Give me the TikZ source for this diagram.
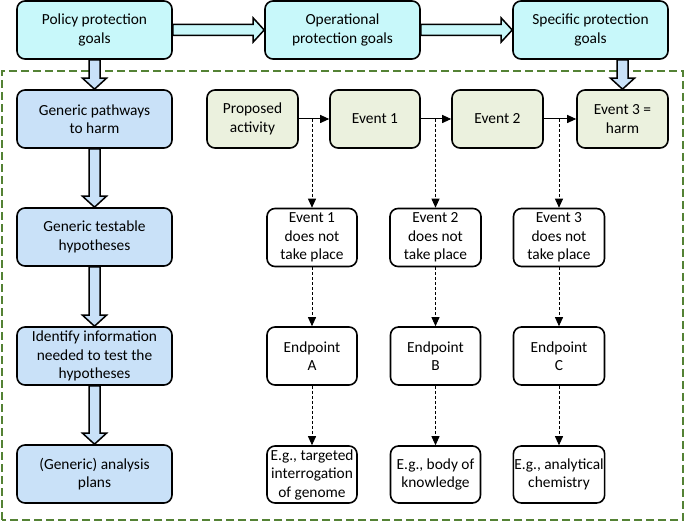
\documentclass[tikz,border=0pt]{standalone}
\usepackage{fontspec}
\setmainfont{Carlito}
\usetikzlibrary{calc,arrows.meta}
\definecolor{topcyan}{HTML}{C8F8FA}
\definecolor{leftblue}{HTML}{C9E1F8}
\definecolor{evolive}{HTML}{EBF1DE}
\definecolor{framegreen}{HTML}{548235}
\tikzset{
  box/.style={draw, line width=1.6pt, rounded corners=8pt, align=center, inner sep=1pt,
    font=\fontsize{15.4}{18.5}\selectfont, text=black},
  topbox/.style={box, fill=topcyan, minimum width=155pt, minimum height=58pt},
  leftbox/.style={box, fill=leftblue, minimum width=155pt, minimum height=58pt},
  evbox/.style={box, fill=evolive, minimum width=91pt, minimum height=58pt},
  whitebox/.style={box, fill=white, minimum width=90pt, minimum height=58pt},
  hollow/.style={draw, line width=1.5pt, line join=miter},
  flowarrow/.style={line width=1pt, -{Triangle[length=9pt,width=8pt]}},
  droparrow/.style={line width=0.9pt, dash pattern=on 3pt off 2pt, -{Triangle[length=9pt,width=8pt]}},
  greenframe/.style={draw=framegreen, line width=2pt, dash pattern=on 8pt off 4pt}
}
\newcommand\vhollow[3]{%
  \draw[hollow,fill=#3] let \p1=(#1.south), \p2=(#2.north) in
    (\x2-5.5pt,\y1) -- (\x2-5.5pt,\y2+11pt) -- (\x2-12pt,\y2+11pt) -- (\x2,\y2)
    -- (\x2+12pt,\y2+11pt) -- (\x2+5.5pt,\y2+11pt) -- (\x2+5.5pt,\y1) -- cycle;}
\newcommand\hhollow[3]{%
  \draw[hollow,fill=#3] let \p1=(#1.east), \p2=(#2.west) in
    (\x1,\y1+5.5pt) -- (\x2-11pt,\y1+5.5pt) -- (\x2-11pt,\y1+12pt) -- (\x2,\y1)
    -- (\x2-11pt,\y1-12pt) -- (\x2-11pt,\y1-5.5pt) -- (\x1,\y1-5.5pt) -- cycle;}
\begin{document}
\begin{tikzpicture}[x=1pt,y=1pt]
\useasboundingbox (0,0) rectangle (685,521);
\fill[white] (0,0) rectangle (685,521);

% dashed frame
\draw[greenframe] (2,1) rectangle (683,450);

% top row
\node[topbox] (pol) at (94.5,491) {Policy protection\\goals};
\node[topbox] (ope) at (342.5,491) {Operational\\protection goals};
\node[topbox] (spe) at (590.5,491) {Specific protection\\goals};

% left column
\node[leftbox] (gp) at (94.5,402) {Generic pathways\\to harm};
\node[leftbox] (gt) at (94.5,284) {Generic testable\\hypotheses};
\node[leftbox] (ii) at (94.5,165) {Identify information\\needed to test the\\hypotheses};
\node[leftbox] (ap) at (94.5,47) {(Generic) analysis\\plans};

% event row
\node[evbox] (pa) at (252.5,402) {Proposed\\activity};
\node[evbox,minimum width=90pt] (e1) at (375,402) {Event 1};
\node[evbox] (e2) at (497.5,402) {Event 2};
\node[evbox] (e3) at (622.5,402) {Event 3 =\\harm};

% middle row
\node[whitebox] (n1) at (312,283.5) {Event 1\\does not\\take place};
\node[whitebox,minimum width=91pt] (n2) at (435.5,283.5) {Event 2\\does not\\take place};
\node[whitebox,minimum width=91pt] (n3) at (559,283.5) {Event 3\\does not\\take place};

% endpoints
\node[whitebox] (ea) at (312,165) {Endpoint\\A};
\node[whitebox] (eb) at (435.5,165) {Endpoint\\B};
\node[whitebox,minimum width=91pt] (ec) at (559,165) {Endpoint\\C};

% examples
\node[whitebox,minimum height=57pt] (xa) at (312,46.5) {E.g., targeted\\interrogation\\of genome};
\node[whitebox,minimum height=57pt] (xb) at (435.5,46.5) {E.g., body of\\knowledge};
\node[whitebox,minimum width=91pt,minimum height=57pt] (xc) at (559,46.5) {E.g., analytical\\chemistry};

% hollow arrows
\hhollow{pol}{ope}{topcyan}
\hhollow{ope}{spe}{topcyan}
\vhollow{pol}{gp}{leftblue}
\vhollow{spe}{e3}{leftblue}
\vhollow{gp}{gt}{leftblue}
\vhollow{gt}{ii}{leftblue}
\vhollow{ii}{ap}{leftblue}

% event flow
\draw[flowarrow] (pa.east) -- (e1.west);
\draw[flowarrow] (e1.east) -- (e2.west);
\draw[flowarrow] (e2.east) -- (e3.west);

\coordinate (d1) at (n1.north |- pa.east);
\coordinate (d2) at (n2.north |- e1.east);
\coordinate (d3) at (n3.north |- e2.east);
\draw[droparrow] (d1) -- (n1.north);
\draw[droparrow] (d2) -- (n2.north);
\draw[droparrow] (d3) -- (n3.north);
\draw[droparrow] (n1.south) -- (ea.north);
\draw[droparrow] (n2.south) -- (eb.north);
\draw[droparrow] (n3.south) -- (ec.north);
\draw[droparrow] (ea.south) -- (xa.north);
\draw[droparrow] (eb.south) -- (xb.north);
\draw[droparrow] (ec.south) -- (xc.north);
\end{tikzpicture}
\end{document}
